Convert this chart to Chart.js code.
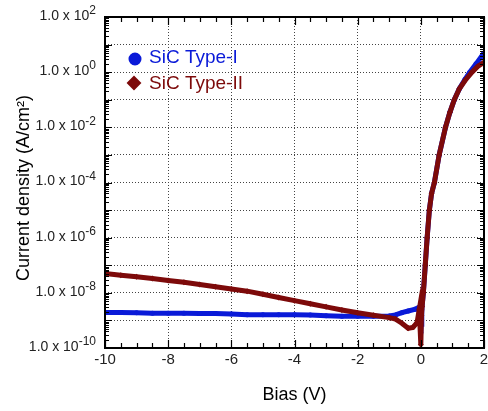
<!DOCTYPE html>
<html>
<head>
<meta charset="utf-8">
<script src="https://cdn.jsdelivr.net/npm/chart.js@4/dist/chart.umd.min.js"></script>
<style>
  body { margin: 0; background: #fff; }
  canvas { display: block; }
</style>
</head>
<body>
<canvas id="jv" width="488" height="411"></canvas>
<script>
// values (bias in V, |J| in A/cm^2)
const seriesNames = ['SiC Type-I', 'SiC Type-II'];

const biasTypeI = [-10, -9.5, -9, -8.5, -8, -7.5, -7, -6.5, -6, -5.5, -5, -4.5, -4, -3.5, -3, -2.5, -2, -1.5, -1,
  -0.8, -0.6, -0.4, -0.2, -0.08, -0.02, 0, 0.01, 0.03, 0.08, 0.14, 0.2, 0.27, 0.34, 0.43, 0.58, 0.78, 0.92, 1.06,
  1.22, 1.4, 1.55, 1.75, 2.0];
const currentTypeI = [1.95e-9, 1.95e-9, 1.91e-9, 1.82e-9, 1.82e-9, 1.82e-9, 1.78e-9, 1.78e-9, 1.7e-9, 1.62e-9,
  1.62e-9, 1.62e-9, 1.62e-9, 1.58e-9, 1.48e-9, 1.41e-9, 1.41e-9, 1.41e-9, 1.45e-9,
  1.58e-9, 1.91e-9, 2.19e-9, 2.51e-9, 2.88e-9, 1.26e-9, 3.5e-10, 7.2e-10, 2.5e-9, 1e-8, 1e-7, 1e-6, 1e-5, 4e-5,
  1e-4, 1e-3, 1e-2, 3.5e-2, 1e-1, 0.25, 0.55, 1.0, 2.0, 5.0];

const biasTypeII = [-10, -9.5, -9, -8.5, -8, -7.5, -7, -6.5, -6, -5.5, -5, -4.5, -4, -3.5, -3, -2.5, -2, -1.5, -1,
  -0.8, -0.6, -0.4, -0.25, -0.12, -0.05, 0, 0.02, 0.04, 0.08, 0.14, 0.2, 0.27, 0.34, 0.43, 0.58, 0.78, 0.92, 1.06,
  1.22, 1.4, 1.62, 1.8, 2.0];
const currentTypeII = [5.0e-8, 4.37e-8, 3.8e-8, 3.31e-8, 2.82e-8, 2.4e-8, 2.0e-8, 1.66e-8, 1.38e-8, 1.15e-8,
  8.9e-9, 6.8e-9, 5.2e-9, 4.0e-9, 3.1e-9, 2.4e-9, 1.9e-9, 1.55e-9, 1.26e-9,
  1.12e-9, 7.9e-10, 5.2e-10, 5.6e-10, 8.3e-10, 2.5e-9, 1.3e-10, 1.5e-9, 3.2e-9, 1e-8, 1e-7, 1e-6, 1e-5, 4e-5,
  1e-4, 1e-3, 1e-2, 3.5e-2, 1e-1, 0.25, 0.5, 1.0, 1.6, 2.3];

const xTickValues = [-10, -8, -6, -4, -2, 0, 2];
const yLabelExps = [-10, -8, -6, -4, -2, 0, 2];

const FONT = '"Liberation Sans", Arial, sans-serif';
const BLUE = '#0a1ad8';
const MAROON = '#7d0a0a';

const toXY = (xs, ys) => xs.map((v, i) => ({ x: v, y: ys[i] }));

// frame, inward ticks, y labels with exponents, y title and legend
const framePlugin = {
  id: 'frame',
  afterDraw(chart) {
    const { ctx, chartArea: a, scales: { x, y } } = chart;
    ctx.save();
    ctx.strokeStyle = '#000';
    ctx.lineWidth = 1.2;
    ctx.beginPath();
    for (let k = 0; k <= 24; k++) {
      const v = -10 + k * 0.5;
      const px = Math.round(x.getPixelForValue(v)) + 0.5;
      const len = (k % 4 === 0) ? 8 : 5;
      ctx.moveTo(px, a.bottom); ctx.lineTo(px, a.bottom - len);
      ctx.moveTo(px, a.top); ctx.lineTo(px, a.top + len);
    }
    for (let e = -10; e < 2; e++) {
      for (let m = 1; m < 10; m++) {
        const py = Math.round(y.getPixelForValue(m * Math.pow(10, e))) + 0.5;
        const len = m === 1 ? 7 : 4;
        ctx.moveTo(a.left, py); ctx.lineTo(a.left + len, py);
        ctx.moveTo(a.right, py); ctx.lineTo(a.right - len, py);
      }
    }
    ctx.stroke();
    ctx.lineWidth = 2;
    ctx.strokeRect(a.left, a.top, a.right - a.left, a.bottom - a.top);

    // y tick labels: 1.0 x 10^n
    ctx.fillStyle = '#222';
    ctx.textBaseline = 'middle';
    ctx.textAlign = 'right';
    yLabelExps.forEach(e => {
      const py = y.getPixelForValue(Math.pow(10, e)) - 1;
      const sup = String(e);
      ctx.font = '12px ' + FONT;
      const sw = ctx.measureText(sup).width;
      ctx.fillText(sup, 96, py - 5);
      ctx.font = '14px ' + FONT;
      ctx.fillText('1.0 x 10', 96 - sw, py);
    });

    // y axis title
    ctx.save();
    ctx.translate(24, 188);
    ctx.rotate(-Math.PI / 2);
    ctx.textAlign = 'center';
    ctx.fillStyle = '#000';
    ctx.font = '18px ' + FONT;
    ctx.fillText('Current density (A/cm\u00B2)', 0, 0);
    ctx.restore();

    // legend
    const items = [
      { name: seriesNames[0], color: BLUE, style: 'circle', r: 5.5, mx: 135, my: 59, ty: 57 },
      { name: seriesNames[1], color: MAROON, style: 'rectRot', r: 6, mx: 134, my: 83, ty: 82.5 }
    ];
    ctx.textAlign = 'left';
    ctx.font = '19px ' + FONT;
    items.forEach(it => {
      ctx.fillStyle = it.color;
      ctx.strokeStyle = it.color;
      Chart.helpers.drawPoint(ctx, { pointStyle: it.style, radius: it.r, borderWidth: 1, rotation: 0 }, it.mx, it.my);
      ctx.fillStyle = it.color;
      ctx.fillText(it.name, 149, it.ty + 1);
    });
    ctx.restore();
  }
};

new Chart(document.getElementById('jv'), {
  type: 'scatter',
  data: {
    datasets: [
      {
        label: seriesNames[0],
        data: toXY(biasTypeI, currentTypeI),
        showLine: true,
        borderColor: BLUE,
        backgroundColor: BLUE,
        borderWidth: 5,
        pointStyle: 'circle',
        pointRadius: 2.5,
        pointBorderWidth: 0,
        order: 2
      },
      {
        label: seriesNames[1],
        data: toXY(biasTypeII, currentTypeII),
        showLine: true,
        borderColor: MAROON,
        backgroundColor: MAROON,
        borderWidth: 5,
        pointStyle: 'rectRot',
        pointRadius: 3,
        pointBorderWidth: 0,
        order: 1
      }
    ]
  },
  options: {
    responsive: false,
    animation: false,
    layout: { padding: { left: 0, right: 2, top: 17, bottom: 0 } },
    plugins: { legend: { display: false }, tooltip: { enabled: false } },
    scales: {
      x: {
        type: 'linear',
        min: -10,
        max: 2,
        afterFit: s => { s.height = 63; s.paddingLeft = 0; s.paddingRight = 0; },
        afterBuildTicks: s => { s.ticks = xTickValues.map(v => ({ value: v })); },
        grid: { drawTicks: false, color: '#444', lineWidth: 1 },
        border: { display: false, dash: [1, 2] },
        ticks: { padding: 3, color: '#222', font: { family: FONT, size: 15 }, callback: v => String(v) },
        title: { display: true, text: 'Bias (V)', color: '#000', font: { family: FONT, size: 18 }, padding: { top: 0, bottom: 5 } }
      },
      y: {
        type: 'logarithmic',
        min: 1e-10,
        max: 1e2,
        afterFit: s => { s.width = 105; s.paddingTop = 0; s.paddingBottom = 0; },
        afterBuildTicks: s => {
          const t = [];
          for (let e = -10; e <= 2; e++) t.push({ value: Math.pow(10, e) });
          s.ticks = t;
        },
        grid: { drawTicks: false, color: '#444', lineWidth: 1 },
        border: { display: false, dash: [1, 2] },
        ticks: { display: false }
      }
    }
  },
  plugins: [framePlugin]
});
</script>
</body>
</html>
